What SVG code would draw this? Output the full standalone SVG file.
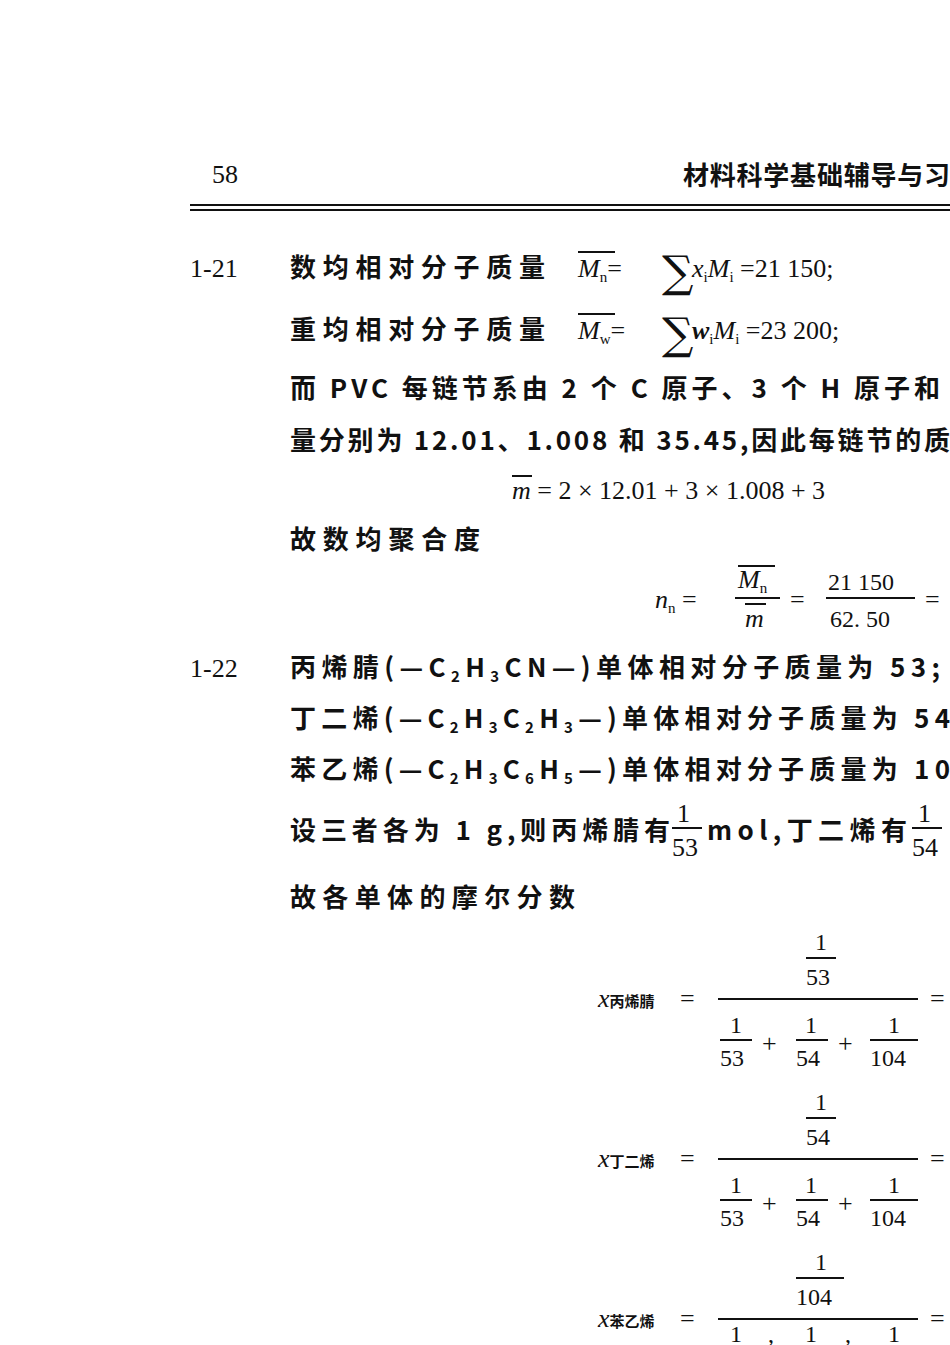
<svg xmlns="http://www.w3.org/2000/svg" width="950" height="1345" viewBox="0 0 950 1345">
<style>
text{font-family:"Liberation Serif","Noto Sans CJK SC",serif;fill:#111;font-size:26px}
.cn{font-family:"Noto Sans CJK SC","Liberation Serif",serif;font-weight:bold}
.i{font-style:italic}
.s{font-size:15px}
.f{font-size:24px}
.sum{font-size:44px;font-family:"DejaVu Serif",serif}
line{stroke:#111;stroke-width:2}
</style>
<rect width="950" height="1345" fill="#fff"/>
<text x="212" y="183" font-size="26" font-family="Liberation Sans,sans-serif">58</text>
<text x="683" y="185" class="cn" font-size="22" textLength="267">材料科学基础辅导与习</text>
<line x1="190" y1="205" x2="950" y2="205" stroke-width="3"/>
<line x1="190" y1="210" x2="950" y2="210" stroke-width="1"/>

<text x="190" y="277" font-family="Liberation Sans,sans-serif">1-21</text>
<text x="290" y="277" class="cn" textLength="255">数均相对分子质量</text>
<text x="578" y="277"><tspan class="i">M</tspan><tspan class="s" dy="5">n</tspan><tspan dy="-5">=</tspan></text>
<line x1="578" y1="252" x2="615" y2="252" stroke-width="1.5"/>
<text x="662" y="287" class="sum">∑</text>
<text x="692" y="277"><tspan class="i">x</tspan><tspan class="s" dy="5">i</tspan><tspan class="i" dy="-5">M</tspan><tspan class="s" dy="5">i</tspan><tspan dy="-5"> =21 150;</tspan></text>

<text x="290" y="339" class="cn" textLength="255">重均相对分子质量</text>
<text x="578" y="339"><tspan class="i">M</tspan><tspan class="s" dy="5">w</tspan><tspan dy="-5">=</tspan></text>
<line x1="578" y1="314" x2="615" y2="314" stroke-width="1.5"/>
<text x="662" y="349" class="sum">∑</text>
<text x="692" y="339"><tspan class="i" font-weight="bold">w</tspan><tspan class="s" dy="5">i</tspan><tspan class="i" dy="-5">M</tspan><tspan class="s" dy="5">i</tspan><tspan dy="-5"> =23 200;</tspan></text>

<text x="290" y="398" class="cn" textLength="650">而 PVC 每链节系由 2 个 C 原子、3 个 H 原子和</text>
<text x="290" y="450" class="cn" textLength="660">量分别为 12.01、1.008 和 35.45,因此每链节的质</text>
<text x="512" y="499"><tspan class="i">m</tspan> = 2 × 12.01 + 3 × 1.008 + 3</text>
<line x1="512" y1="476" x2="532" y2="476" stroke-width="1.5"/>
<text x="290" y="549" class="cn" textLength="190">故数均聚合度</text>

<text x="655" y="608"><tspan class="i">n</tspan><tspan class="s" dy="5">n</tspan><tspan dy="-5"> =</tspan></text>
<text x="738" y="588" class="i">M<tspan class="s" dy="5" font-style="normal">n</tspan></text>
<line x1="738" y1="566" x2="775" y2="566" stroke-width="1.5"/>
<line x1="735" y1="598" x2="780" y2="598"/>
<text x="745" y="627" class="i">m</text>
<line x1="745" y1="604" x2="766" y2="604" stroke-width="1.5"/>
<text x="790" y="608">=</text>
<text x="828" y="590" class="f">21 150</text>
<line x1="826" y1="598" x2="915" y2="598"/>
<text x="830" y="627" class="f">62. 50</text>
<text x="925" y="608">=</text>

<text x="190" y="677" font-family="Liberation Sans,sans-serif">1-22</text>
<text x="290" y="677" class="cn" textLength="650">丙烯腈(—C<tspan class="s" dy="5">2</tspan><tspan dy="-5">H</tspan><tspan class="s" dy="5">3</tspan><tspan dy="-5">CN—)单体相对分子质量为 53;</tspan></text>
<text x="290" y="728" class="cn" textLength="660">丁二烯(—C<tspan class="s" dy="5">2</tspan><tspan dy="-5">H</tspan><tspan class="s" dy="5">3</tspan><tspan dy="-5">C</tspan><tspan class="s" dy="5">2</tspan><tspan dy="-5">H</tspan><tspan class="s" dy="5">3</tspan><tspan dy="-5">—)单体相对分子质量为 54</tspan></text>
<text x="290" y="779" class="cn" textLength="660">苯乙烯(—C<tspan class="s" dy="5">2</tspan><tspan dy="-5">H</tspan><tspan class="s" dy="5">3</tspan><tspan dy="-5">C</tspan><tspan class="s" dy="5">6</tspan><tspan dy="-5">H</tspan><tspan class="s" dy="5">5</tspan><tspan dy="-5">—)单体相对分子质量为 10</tspan></text>

<text x="290" y="840" class="cn" textLength="380">设三者各为 1 g,则丙烯腈有</text>
<text x="677" y="822" font-size="20">1</text>
<line x1="672" y1="828" x2="702" y2="828" stroke-width="1.5"/>
<text x="672" y="856" font-size="22">53</text>
<text x="707" y="840" class="cn" textLength="200">mol,丁二烯有</text>
<text x="918" y="822" font-size="20">1</text>
<line x1="912" y1="828" x2="942" y2="828" stroke-width="1.5"/>
<text x="912" y="856" font-size="22">54</text>
<text x="290" y="907" class="cn" textLength="285">故各单体的摩尔分数</text>

<g id="f1">
<text x="598" y="1007" class="i" font-size="22">x<tspan class="cn s" font-style="normal">丙烯腈</tspan></text>
<text x="680" y="1007">=</text>
<text x="815" y="950" class="f">1</text><line x1="806" y1="958" x2="836" y2="958" stroke-width="1.5"/><text x="806" y="985" class="f">53</text>
<line x1="718" y1="999" x2="918" y2="999"/>
<text x="730" y="1033" class="f">1</text><line x1="720" y1="1040" x2="752" y2="1040" stroke-width="1.5"/><text x="720" y="1066" class="f">53</text>
<text x="762" y="1052">+</text>
<text x="805" y="1033" class="f">1</text><line x1="796" y1="1040" x2="828" y2="1040" stroke-width="1.5"/><text x="796" y="1066" class="f">54</text>
<text x="838" y="1052">+</text>
<text x="888" y="1033" class="f">1</text><line x1="870" y1="1040" x2="918" y2="1040" stroke-width="1.5"/><text x="870" y="1066" class="f">104</text>
<text x="930" y="1007">=</text>
</g>
<g id="f2">
<text x="598" y="1167" class="i" font-size="22">x<tspan class="cn s" font-style="normal">丁二烯</tspan></text>
<text x="680" y="1167">=</text>
<text x="815" y="1110" class="f">1</text><line x1="806" y1="1118" x2="836" y2="1118" stroke-width="1.5"/><text x="806" y="1145" class="f">54</text>
<line x1="718" y1="1159" x2="918" y2="1159"/>
<text x="730" y="1193" class="f">1</text><line x1="720" y1="1200" x2="752" y2="1200" stroke-width="1.5"/><text x="720" y="1226" class="f">53</text>
<text x="762" y="1212">+</text>
<text x="805" y="1193" class="f">1</text><line x1="796" y1="1200" x2="828" y2="1200" stroke-width="1.5"/><text x="796" y="1226" class="f">54</text>
<text x="838" y="1212">+</text>
<text x="888" y="1193" class="f">1</text><line x1="870" y1="1200" x2="918" y2="1200" stroke-width="1.5"/><text x="870" y="1226" class="f">104</text>
<text x="930" y="1167">=</text>
</g>
<g id="f3">
<text x="598" y="1327" class="i" font-size="22">x<tspan class="cn s" font-style="normal">苯乙烯</tspan></text>
<text x="680" y="1327">=</text>
<text x="815" y="1270" class="f">1</text><line x1="796" y1="1278" x2="844" y2="1278" stroke-width="1.5"/><text x="796" y="1305" class="f">104</text>
<line x1="718" y1="1319" x2="918" y2="1319"/>
<text x="730" y="1342" class="f">1</text>
<text x="768" y="1342" class="f">,</text>
<text x="805" y="1342" class="f">1</text>
<text x="845" y="1342" class="f">,</text>
<text x="888" y="1342" class="f">1</text>
<text x="930" y="1327">=</text>
</g>
</svg>
